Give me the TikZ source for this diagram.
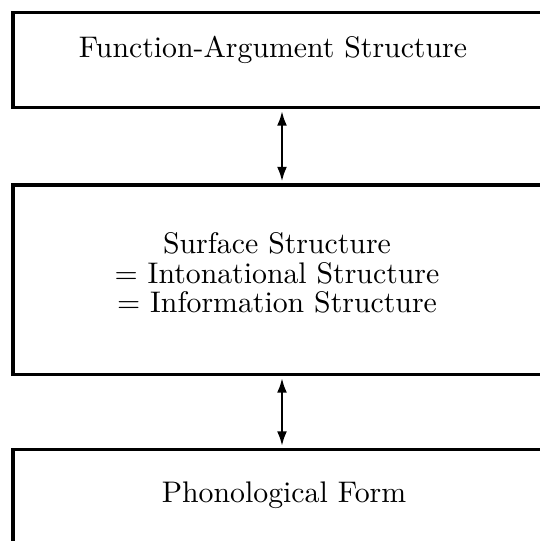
\documentclass[tikz,border=0pt]{standalone}
\usepackage{fontspec}
\setmainfont{lmroman10-regular}[Extension=.otf]
\usetikzlibrary{arrows.meta}
\begin{document}
\begin{tikzpicture}[x=1pt,y=-1pt,
    level/.style={draw,line width=3.4pt,minimum width=530pt,inner sep=0pt},
    tag/.style={inner sep=0pt,font=\fontsize{29.8}{29.5}\selectfont,align=center},
    link/.style={{Latex[length=15pt,width=10pt]}-{Latex[length=15pt,width=10pt]},
      line width=2.8pt,shorten <=1.5pt,shorten >=1.5pt}]
    \useasboundingbox (0,0) rectangle (539,541);

    % Boxes
    \node[level,minimum height=95pt] (fas) at (278,60) {};
    \node[level,minimum height=189.5pt] (ss) at (278,279.75) {};
    \node[level,minimum height=105pt] (pf) at (278,502) {};

    % Texts
    \node[tag,xshift=-5pt,yshift=10pt] (fastext) at (fas.center) {Function-Argument Structure};
    \node[tag,xshift=-1pt,yshift=6.5pt] (sstext) at (ss.center)
      {Surface Structure\\ = Intonational Structure\\ = Information Structure};
    \node[tag,xshift=6pt,yshift=7pt] (pftext) at (pf.center) {Phonological Form};

    % Links
    \draw[link] ([xshift=4pt]fas.south) -- ([xshift=4pt]ss.north);
    \draw[link] ([xshift=4pt]ss.south) -- ([xshift=4pt]pf.north);
\end{tikzpicture}
\end{document}
